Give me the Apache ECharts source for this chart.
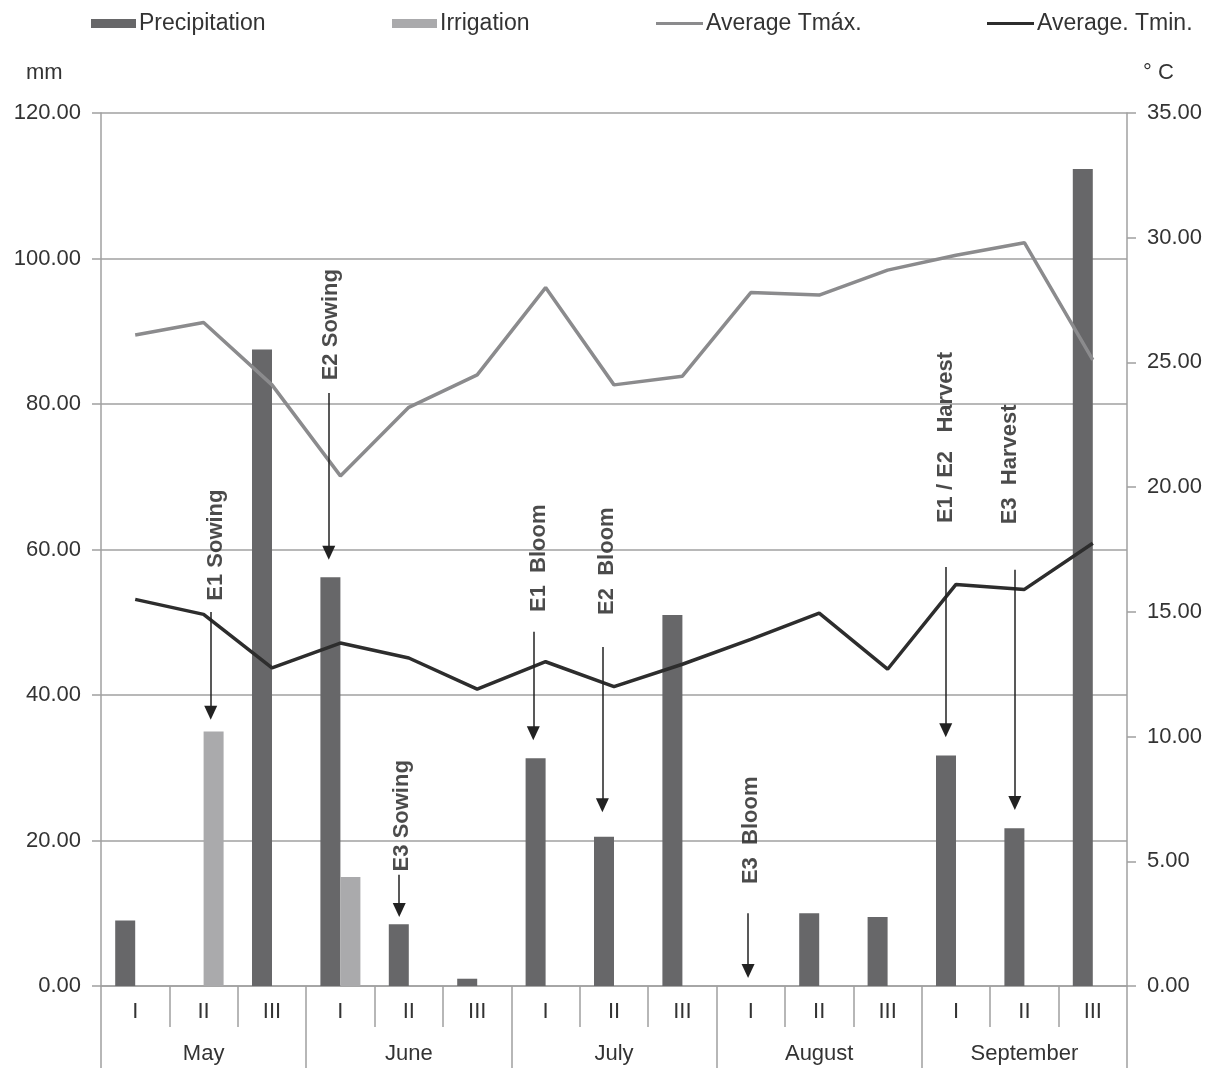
<!DOCTYPE html>
<html>
<head>
<meta charset="utf-8">
<script src="https://cdn.jsdelivr.net/npm/echarts@6/dist/echarts.min.js"></script>
<style>
html,body{margin:0;padding:0;background:#fff;}
#chart{width:1212px;height:1068px;}
</style>
</head>
<body>
<div id="chart"></div>
<script>
// ---- data ----
const decades = ['I','II','III','I','II','III','I','II','III','I','II','III','I','II','III'];
const months = ['May','June','July','August','September'];
const precipitation = [9.0, 0, 87.5, 56.2, 8.5, 1.0, 31.3, 20.5, 51.0, 0, 10.0, 9.5, 31.7, 21.7, 112.3];
const irrigation = [0, 35.0, 0, 15.0, 0, 0, 0, 0, 0, 0, 0, 0, 0, 0, 0];
const tmax = [26.1, 26.6, 24.1, 20.45, 23.2, 24.5, 28.0, 24.1, 24.45, 27.8, 27.7, 28.7, 29.3, 29.8, 25.1];
const tmin = [15.5, 14.9, 12.75, 13.75, 13.15, 11.9, 13.0, 12.0, 12.9, 13.9, 14.95, 12.7, 16.1, 15.9, 17.75];

// annotations (x in decade units 0..15 along the axis, y in mm)
const annoText = ['E1 Sowing','E2 Sowing','E3 Sowing','E1  Bloom','E2  Bloom','E3  Bloom','E1 / E2   Harvest','E3  Harvest'];
const annoTextX = [1.68, 3.36, 4.40, 6.40, 7.40, 9.50, 12.36, 13.29];
const annoTextY = [60.6, 90.9, 23.4, 58.8, 58.4, 21.4, 75.4, 71.7];
const arrowX = [1.604, 3.33, 4.36, 6.32, 7.33, 9.46, 12.35, 13.36];
const arrowFrom = [51.4, 81.5, 15.3, 48.7, 46.6, 10.0, 57.6, 57.2];
const arrowTo = [37.55, 59.55, 10.45, 34.75, 24.85, 2.05, 35.15, 25.15];

const FONT = "'Liberation Sans', Arial, sans-serif";
const AX = '#a0a0a0';
const TXT = '#333333';

const chart = echarts.init(document.getElementById('chart'), null, {renderer:'canvas'});

function legendAt(left, name, icon, w, h) {
  return {
    left: left, top: 12, padding: 0, data: [name], icon: icon, itemWidth: w, itemHeight: h,
    itemGap: 0, selectedMode: false,
    textStyle: {fontFamily: FONT, fontSize: 23, color: TXT, padding: [0,0,0,-2]}
  };
}

const option = {
  backgroundColor: '#ffffff',
  animation: false,
  textStyle: {fontFamily: FONT},
  legend: [
    legendAt(91, 'Precipitation', 'rect', 45, 9),
    legendAt(392, 'Irrigation', 'rect', 45, 9),
    legendAt(656, 'Average Tmáx.', 'rect', 47, 3),
    legendAt(987, 'Average. Tmin.', 'rect', 47, 3)
  ],
  graphic: [
    {type:'text', left: 26, top: 62, style:{text:'mm', font:"22px 'Liberation Sans', Arial", fill: TXT}},
    {type:'text', left: 1143, top: 62, style:{text:'° C', font:"22px 'Liberation Sans', Arial", fill: TXT}}
  ],
  grid: {left: 101, right: 85, top: 113, bottom: 82, containLabel: false},
  xAxis: [
    {
      type: 'category', data: decades, position: 'bottom', boundaryGap: true,
      axisLine: {show: true, lineStyle: {color: AX, width: 1.5}},
      axisTick: {show: true, length: 41, interval: 0, lineStyle: {color: AX, width: 1.5}},
      axisLabel: {interval: 0, margin: 15, fontSize: 22, color: TXT, fontFamily: FONT}
    },
    {
      type: 'category', data: months, position: 'bottom', boundaryGap: true,
      axisLine: {show: false},
      axisTick: {show: true, length: 90, interval: 0, lineStyle: {color: AX, width: 1.5}},
      axisLabel: {interval: 0, margin: 57, fontSize: 22, color: TXT, fontFamily: FONT}
    },
    {
      type: 'value', min: 0, max: 15, show: false
    }
  ],
  yAxis: [
    {
      type: 'value', min: 0, max: 120, interval: 20, position: 'left',
      axisLine: {show: true, lineStyle: {color: AX, width: 1.5}},
      axisTick: {show: true, length: 9, lineStyle: {color: AX, width: 1.5}},
      axisLabel: {margin: 20, fontSize: 22, color: TXT, fontFamily: FONT,
                  formatter: v => v.toFixed(2)},
      splitLine: {show: true, lineStyle: {color: AX, width: 1.5}}
    },
    {
      type: 'value', min: 0, max: 35, interval: 5, position: 'right',
      axisLine: {show: true, lineStyle: {color: AX, width: 1.5}},
      axisTick: {show: true, length: 9, lineStyle: {color: AX, width: 1.5}},
      axisLabel: {margin: 20, fontSize: 22, color: TXT, fontFamily: FONT,
                  formatter: v => v.toFixed(2)},
      splitLine: {show: false}
    }
  ],
  series: [
    {
      name: 'Precipitation', type: 'bar', xAxisIndex: 0, yAxisIndex: 0,
      data: precipitation, barWidth: 20, barGap: '0%',
      itemStyle: {color: '#676769'}
    },
    {
      name: 'Irrigation', type: 'bar', xAxisIndex: 0, yAxisIndex: 0,
      data: irrigation, barWidth: 20, barGap: '0%',
      itemStyle: {color: '#aaaaac'}
    },
    {
      name: 'Average Tmáx.', type: 'line', xAxisIndex: 0, yAxisIndex: 1,
      data: tmax, showSymbol: false, symbol: 'none',
      lineStyle: {color: '#8b8b8d', width: 3.5}, itemStyle: {color: '#8b8b8d'}
    },
    {
      name: 'Average. Tmin.', type: 'line', xAxisIndex: 0, yAxisIndex: 1,
      data: tmin, showSymbol: false, symbol: 'none',
      lineStyle: {color: '#2d2d2d', width: 3.5}, itemStyle: {color: '#2d2d2d'}
    },
    {
      name: 'annotations', type: 'scatter', xAxisIndex: 2, yAxisIndex: 0,
      symbolSize: 1, itemStyle: {color: 'rgba(0,0,0,0)'}, silent: true, z: 5,
      data: annoText.map((t, i) => [annoTextX[i], annoTextY[i], t]),
      label: {
        show: true, position: 'inside', rotate: 90,
        formatter: p => p.value[2],
        fontFamily: FONT, fontWeight: 'bold', fontSize: 22, color: '#1e1e1e'
      },
      labelLayout: {hideOverlap: false}
    },
    {
      name: 'arrows', type: 'line', xAxisIndex: 2, yAxisIndex: 0,
      data: [], silent: true, z: 6,
      itemStyle: {color: '#222222'},
      markLine: {
        silent: true, animation: false,
        symbol: ['none', 'triangle'], symbolSize: 13,
        itemStyle: {color: '#222222'},
        lineStyle: {color: '#222222', width: 1.5, type: 'solid', opacity: 1},
        label: {show: false},
        data: arrowX.map((x, i) => [
          {coord: [x, arrowFrom[i]], symbol: 'none'},
          {coord: [x, arrowTo[i]], symbol: 'triangle', symbolSize: [13, 14]}
        ])
      }
    }
  ]
};
chart.setOption(option);
</script>
</body>
</html>
